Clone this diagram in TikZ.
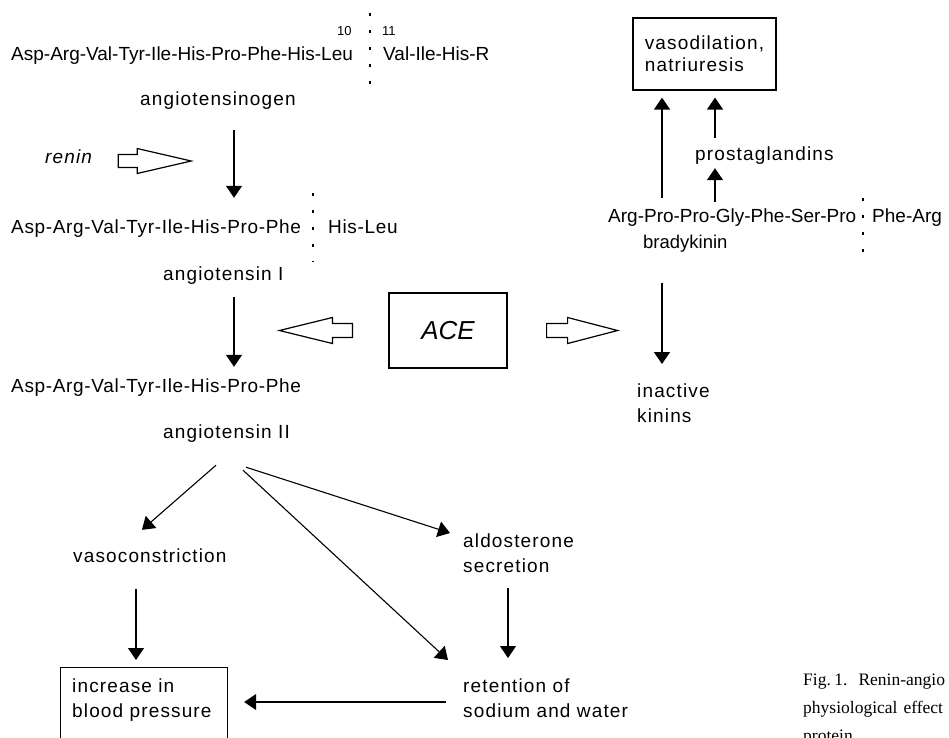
\documentclass[tikz,border=0pt]{standalone}
\usepackage{fontspec}
\setmainfont{Liberation Sans}
\newfontfamily\capfont{Liberation Serif}
\newfontfamily\spfont{Liberation Sans}[LetterSpace=6]
\newfontfamily\pepfont{Liberation Sans}[LetterSpace=3.5]
\usetikzlibrary{arrows.meta,calc}
\tikzset{
 pep/.style={inner sep=0pt, anchor=west, text height=14pt, text depth=4pt, font=\pepfont\fontsize{19}{25}\selectfont},
 pepa/.style={pep, font=\fontsize{19}{25}\selectfont},
 lbl/.style={inner sep=0pt, anchor=west, text height=14pt, text depth=4pt, font=\spfont\fontsize{19}{25}\selectfont},
 mlbl/.style={inner sep=0pt, anchor=north west, align=left, font=\spfont\fontsize{19}{25}\selectfont},
 boxed/.style={draw, line width=1.2pt, inner sep=0pt},
 arr/.style={-{Triangle[length=12pt,width=16pt]}, line width=1.5pt},
 darr/.style={arr, line width=1.1pt},
 cut/.style={line width=1.5pt, dash pattern=on 3pt off 14pt},
 hollow/.style={draw, line width=1.2pt, line join=miter, fill=white},
 num/.style={inner sep=0pt, anchor=west, font=\fontsize{13}{15}\selectfont},
 captxt/.style={inner sep=0pt, anchor=base west, font=\capfont\fontsize{17.5}{28}\selectfont},
}
\begin{document}
\begin{tikzpicture}[x=1pt,y=-1pt]
\useasboundingbox (0,0) rectangle (949,737);
\clip (0,0) rectangle (949,737);
% left column
\node[pepa] (p1) at (11,55) {Asp-Arg-Val-Tyr-Ile-His-Pro-Phe-His-Leu};
\node[num] (n10) at (337,31) {10};
\node[num] (n11) at (382,31) {11};
\node[pepa] (p1b) at (383,55) {Val-Ile-His-R};
\draw[cut] (370,13) -- (370,92);
\node[lbl] (agen) at (140,100) {angiotensinogen};
\node[lbl, font=\spfont\itshape\fontsize{19}{25}\selectfont] (renin) at (45,158) {renin};
\node[pep] (p2) at (11,228) {Asp-Arg-Val-Tyr-Ile-His-Pro-Phe};
\node[pep] (p2b) at (328,228) {His-Leu};
\draw[cut] (313,193) -- (313,262);
\node[lbl] (ang1) at (163,275) {angiotensin I};
\node[boxed, minimum width=118pt, minimum height=75pt, font=\itshape\fontsize{26}{30}\selectfont] (ace) at (448,330.5) {ACE};
\node[pep] (p3) at (11,387) {Asp-Arg-Val-Tyr-Ile-His-Pro-Phe};
\node[lbl] (ang2) at (163,433) {angiotensin II};
\node[lbl] (vaso) at (73,557) {vasoconstriction};
\node[mlbl] (aldo) at (463,534) {aldosterone\\secretion};
\node[mlbl] (ret) at (463,679) {retention of\\sodium and water};
\node[boxed, anchor=north west, minimum width=167pt, minimum height=100pt] (incr) at (60,667) {};
\node[mlbl] (incrt) at (72,679) {increase in\\blood pressure};
% right column
\node[boxed, minimum width=143pt, minimum height=72pt, align=left, font=\spfont\fontsize{19}{22}\selectfont] (vbox) at (704.5,54) {vasodilation,\\natriuresis};
\node[lbl] (prost) at (695,155) {prostaglandins};
\node[pepa] (p4) at (608,217) {Arg-Pro-Pro-Gly-Phe-Ser-Pro};
\node[pepa] (p4b) at (872,217) {Phe-Arg};
\draw[cut] (863,198) -- (863,260);
\node[lbl, font=\fontsize{18.5}{25}\selectfont] (brady) at (643,243) {bradykinin};
\node[mlbl] (inact) at (637,384) {inactive\\kinins};
% caption
\node[captxt] (c1) at (803,685) {Fig.\hspace{3.5pt}1.\hspace{11pt}Renin-angio};
\node[captxt] (c2) at (803,713) {physiological\hspace{6pt}effect};
\node[captxt] (c3) at (803,741) {protein};
% arrows
\coordinate (X1) at (234,0);
\coordinate (X2) at (136,0);
\coordinate (X3) at (508,0);
\coordinate (X4) at (662,0);
\coordinate (X5) at (715,0);
\coordinate (Y1) at (0,702);
\draw[arr, shorten <=21pt, shorten >=21pt] (agen.south -| X1) -- (p2.north -| X1);
\draw[arr, shorten <=13pt, shorten >=11pt] (ang1.south -| X1) -- (p3.north -| X1);
\draw[darr] ($(ang2.south west)+(53,23)$) -- ($(vaso.north west)+(69,-18)$);
\draw[darr] ($(ang2.south west)+(83,25)$) -- ($(aldo.north west)+(-13,-1)$);
\draw[darr] ($(ang2.south west)+(80,28)$) -- ($(ret.north west)+(-15,-19)$);
\draw[darr, shorten <=23pt, shorten >=7pt] (vaso.south -| X2) -- (incr.north -| X2);
\draw[darr, shorten <=15pt, shorten >=21pt] (aldo.south -| X3) -- (ret.north -| X3);
\draw[darr, shorten <=17pt, shorten >=16pt] (ret.west |- Y1) -- (incr.east |- Y1);
\draw[arr, shorten <=10pt, shorten >=7pt] (p4.north -| X4) -- (vbox.south -| X4);
\draw[arr, shorten <=8pt, shorten >=7pt] (prost.north -| X5) -- (vbox.south -| X5);
\draw[arr, shorten <=6pt, shorten >=4pt] (p4.north -| X5) -- (prost.south -| X5);
\draw[arr, shorten <=31pt, shorten >=20pt] (brady.south -| X4) -- (inact.north -| X4);
% hollow arrows
\draw[hollow] ($(renin.east)+(26,3)$) ++(0,-6.5) -- ++(19,0) -- ++(0,-6) -- ++(54,12.5) -- ++(-54,12.5) -- ++(0,-6) -- ++(-19,0) -- cycle;
\draw[hollow] ($(ace.west)+(-36,0)$) ++(0,-7) -- ++(-20,0) -- ++(0,-6) -- ++(-53,13) -- ++(53,13) -- ++(0,-6) -- ++(20,0) -- cycle;
\draw[hollow] ($(ace.east)+(39,0)$) ++(0,-7) -- ++(21,0) -- ++(0,-6) -- ++(50,13) -- ++(-50,13) -- ++(0,-6) -- ++(-21,0) -- cycle;
\end{tikzpicture}
\end{document}
